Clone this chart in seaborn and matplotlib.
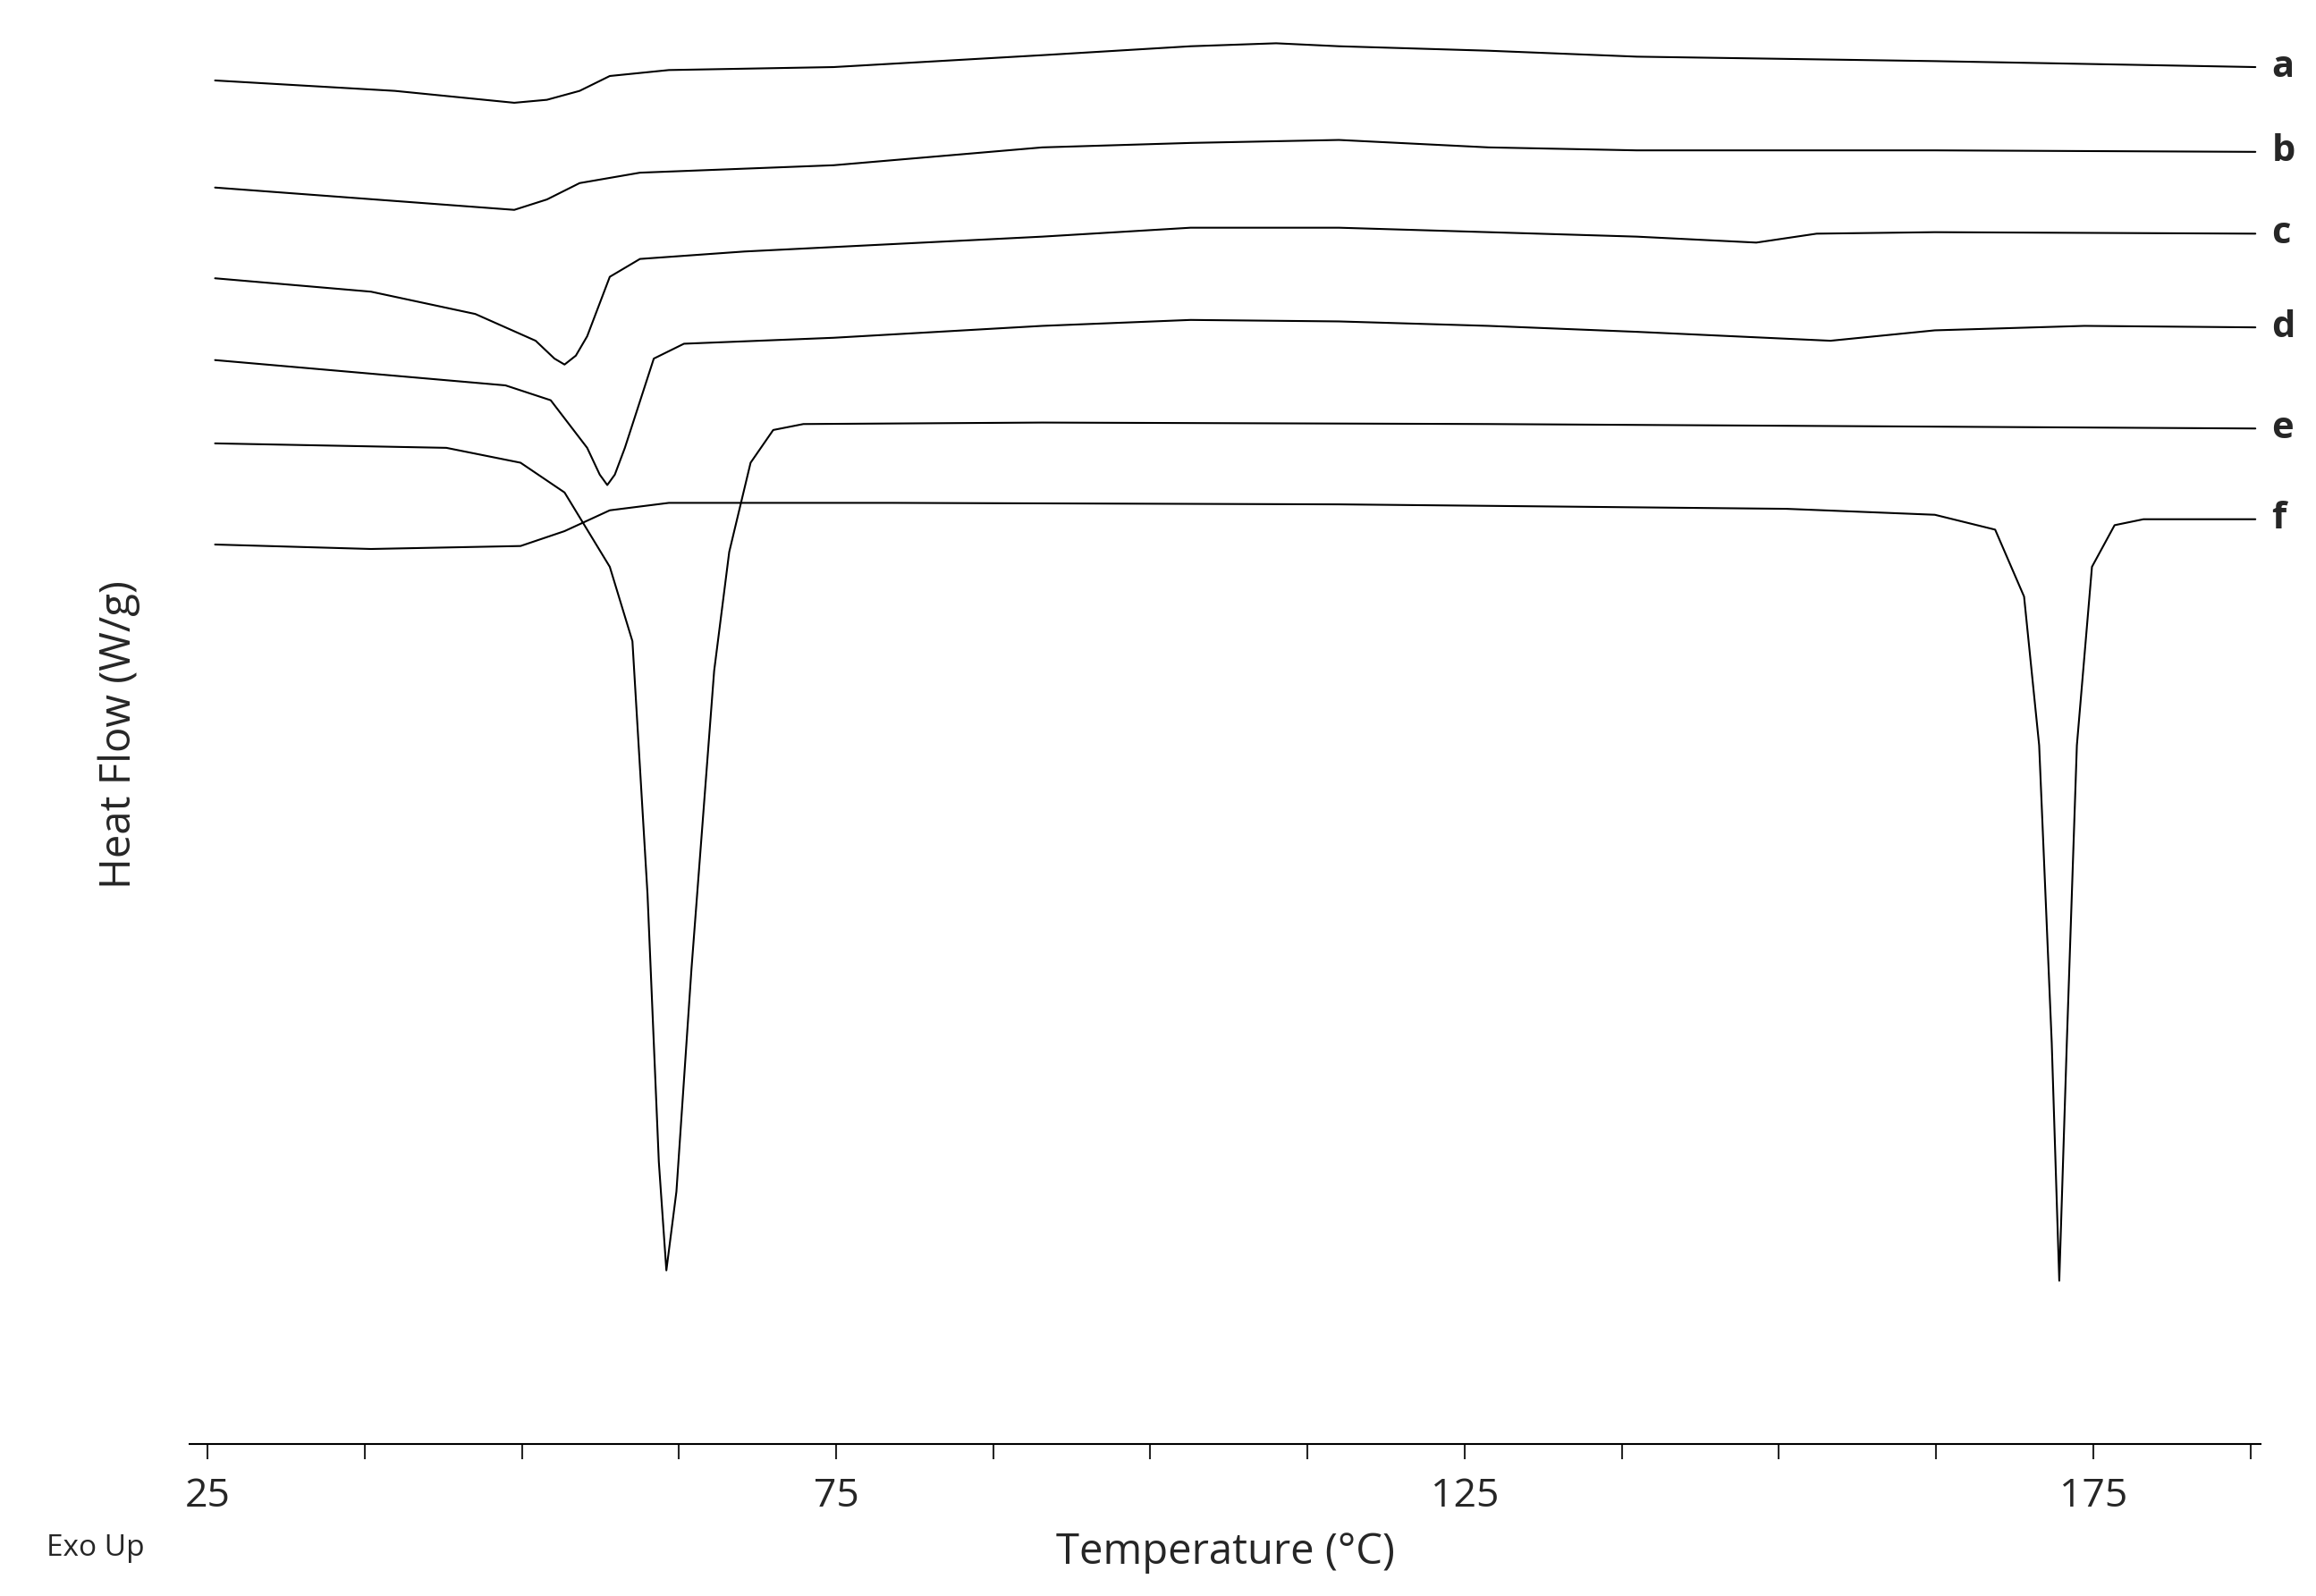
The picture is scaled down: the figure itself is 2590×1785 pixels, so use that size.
import matplotlib
matplotlib.use("Agg")
import matplotlib.pyplot as plt
import seaborn as sns
import pandas as pd

sns.set_style("white")
plt.rcParams['font.family'] = ['Open Sans', 'DejaVu Sans']

a_T = [25.6, 39.9, 49.4, 52.0, 54.6, 57.0, 61.7, 74.8, 91.4, 103.2, 110.0, 115.0, 126.9, 138.7, 162.4, 187.9]
a_H = [-0.53, -0.60, -0.68, -0.66, -0.60, -0.50, -0.46, -0.44, -0.36, -0.30, -0.28, -0.30, -0.33, -0.37, -0.40, -0.44]
b_T = [25.6, 49.4, 52.0, 54.6, 59.4, 74.8, 91.4, 103.2, 115.0, 126.9, 138.7, 147.6, 162.4, 187.9]
b_H = [-1.25, -1.40, -1.33, -1.22, -1.15, -1.10, -0.98, -0.95, -0.93, -0.98, -1.00, -1.00, -1.00, -1.01]
c_T = [25.6, 38.0, 46.3, 51.1, 52.6, 53.4, 54.3, 55.2, 57.0, 59.4, 67.7, 91.4, 103.2, 115.0, 126.9, 138.7, 148.2, 153.0, 162.4, 187.9]
c_H = [-1.86, -1.95, -2.10, -2.28, -2.40, -2.44, -2.38, -2.25, -1.85, -1.73, -1.68, -1.58, -1.52, -1.52, -1.55, -1.58, -1.62, -1.56, -1.55, -1.56]
d_T = [25.6, 48.7, 52.3, 55.2, 56.2, 56.8, 57.4, 58.2, 60.5, 62.9, 74.8, 91.4, 103.2, 115.0, 126.9, 138.7, 154.1, 162.4, 174.3, 187.9]
d_H = [-2.41, -2.58, -2.68, -3.00, -3.18, -3.25, -3.18, -3.00, -2.40, -2.30, -2.26, -2.18, -2.14, -2.15, -2.18, -2.22, -2.28, -2.21, -2.18, -2.19]
e_T = [25.6, 44.0, 49.9, 53.4, 57.0, 58.8, 60.0, 60.9, 61.5, 62.3, 63.5, 65.3, 66.5, 68.2, 70.0, 72.4, 91.4, 126.9, 187.9]
e_H = [-2.97, -3.00, -3.10, -3.30, -3.80, -4.30, -6.00, -7.80, -8.53, -8.00, -6.50, -4.50, -3.70, -3.10, -2.88, -2.84, -2.83, -2.84, -2.87]
f_T = [25.6, 38.0, 49.9, 53.4, 57.0, 61.7, 79.5, 115.0, 150.6, 162.4, 167.2, 169.5, 170.7, 171.7, 172.3, 172.9, 173.7, 174.9, 176.7, 179.0, 187.9]
f_H = [-3.65, -3.68, -3.66, -3.56, -3.42, -3.37, -3.37, -3.38, -3.41, -3.45, -3.55, -4.00, -5.00, -7.00, -8.60, -7.00, -5.00, -3.80, -3.52, -3.48, -3.48]
names = ['a', 'b', 'c', 'd', 'e', 'f']
series = [(a_T, a_H), (b_T, b_H), (c_T, c_H), (d_T, d_H), (e_T, e_H), (f_T, f_H)]
x_ticks = [25, 75, 125, 175]

fig = plt.figure(figsize=(25.9, 17.85), dpi=100)
ax = fig.add_axes([0.082, 0.095, 0.894, 0.89])
for n, (T, H) in zip(names, series):
    df = pd.DataFrame({'T': T, 'H': H})
    sns.lineplot(data=df, x='T', y='H', ax=ax, color='black', linewidth=1.5, sort=False)
    ax.text(189.2, H[-1], n, fontsize=30, fontweight='bold', va='center', ha='left')

ax.set_xlim(23.6, 188.3)
ax.set_ylim(-9.70, -0.15)
for s in ['top', 'right', 'left']:
    ax.spines[s].set_visible(False)
ax.spines['bottom'].set_color('black')
ax.spines['bottom'].set_linewidth(1.5)
ax.set_yticks([])
ax.set_xticks(x_ticks)
ax.set_xticks([25 + 12.5 * i for i in range(14)], minor=True)
ax.tick_params(axis='x', which='both', direction='out', bottom=True, length=12, width=1.5, labelsize=32, pad=14)
ax.set_xlabel('Temperature (°C)', fontsize=34, labelpad=12)
ax.set_ylabel('Heat Flow (W/g)', fontsize=34, labelpad=40)
fig.text(0.020, 0.025, 'Exo Up', fontsize=24)
fig.savefig('out.png', dpi=100)
